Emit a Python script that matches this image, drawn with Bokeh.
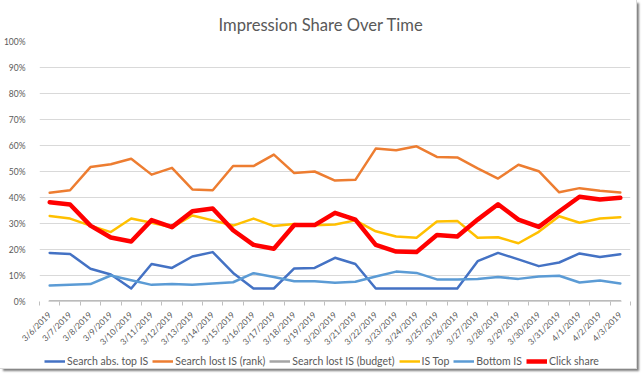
from bokeh.plotting import figure
from bokeh.layouts import column
from bokeh.models import Range1d, FixedTicker, Legend, LegendItem
from bokeh.embed import file_html
from bokeh.resources import INLINE
from math import pi

dates = ["3/6/2019", "3/7/2019", "3/8/2019", "3/9/2019", "3/10/2019", "3/11/2019",
         "3/12/2019", "3/13/2019", "3/14/2019", "3/15/2019", "3/16/2019", "3/17/2019",
         "3/18/2019", "3/19/2019", "3/20/2019", "3/21/2019", "3/22/2019", "3/23/2019",
         "3/24/2019", "3/25/2019", "3/26/2019", "3/27/2019", "3/28/2019", "3/29/2019",
         "3/30/2019", "3/31/2019", "4/1/2019", "4/2/2019", "4/3/2019"]

abs_top = [18.7, 18.3, 12.6, 10.4, 5.0, 14.4, 12.9, 17.3, 19.0, 11.0, 5.0, 5.0, 12.7, 12.9, 16.8,
           14.4, 5.0, 5.0, 5.0, 5.0, 5.0, 15.5, 18.7, 16.2, 13.6, 15.0, 18.5, 17.1, 18.2]
lost_rank = [41.8, 42.8, 51.7, 52.8, 54.9, 48.8, 51.4, 43.1, 42.8, 52.1, 52.1, 56.5, 49.4, 50.0, 46.5,
             46.8, 58.8, 58.2, 59.7, 55.6, 55.4, 51.2, 47.3, 52.6, 50.1, 42.0, 43.6, 42.6, 41.9]
lost_budget = [0, 0, 0, 0, 0, 0, 0, 0, 0, 0, 0, 0, 0, 0, 0,
               0, 0, 0, 0, 0, 0, 0, 0, 0, 0, 0, 0, 0, 0]
is_top = [32.9, 31.9, 29.2, 26.7, 31.9, 30.3, 28.5, 33.1, 31.2, 29.2, 31.9, 29.0, 29.8, 29.3, 29.6,
          31.2, 27.0, 25.0, 24.5, 30.8, 31.0, 24.5, 24.7, 22.4, 26.8, 32.8, 30.3, 31.9, 32.4]
bottom_is = [6.2, 6.4, 6.7, 10.0, 8.2, 6.4, 6.7, 6.4, 6.9, 7.4, 10.9, 9.4, 7.8, 7.8, 7.2,
             7.6, 9.6, 11.5, 11.0, 8.5, 8.5, 8.7, 9.4, 8.7, 9.6, 9.9, 7.3, 8.1, 6.9]
click_share = [38.2, 37.3, 29.2, 24.6, 23.1, 31.3, 28.6, 34.7, 35.8, 27.4, 21.8, 20.3, 29.4, 29.4, 34.1,
               31.5, 21.8, 19.2, 19.0, 25.6, 25.0, 31.5, 37.4, 31.5, 28.7, 34.6, 40.3, 39.2, 39.9]

y_ticks = [0, 10, 20, 30, 40, 50, 60, 70, 80, 90, 100]

series = [
    ("Search abs. top IS", abs_top, "#4472C4", 2.5),
    ("Search lost IS (rank)", lost_rank, "#ED7D31", 2.5),
    ("Search lost IS (budget)", lost_budget, "#A5A5A5", 2.5),
    ("IS Top", is_top, "#FFC000", 2.5),
    ("Bottom IS", bottom_is, "#5B9BD5", 2.5),
    ("Click share", click_share, "#FF0000", 4.5),
]

FONT = "Lato"
TXT = "#595959"

xs = list(range(len(dates)))

p = figure(width=636, height=353, output_backend="svg", toolbar_location=None,
           x_range=Range1d(-0.5, len(dates) - 0.5), y_range=Range1d(0, 100),
           min_border_left=35, min_border_right=6, min_border_top=41, min_border_bottom=52)
p.outline_line_color = None
p.background_fill_color = "white"
p.border_fill_color = "white"

p.title.text = "Impression Share Over Time"
p.title.align = "left"
p.title.offset = 179
p.title.standoff = 14
p.title.text_font = FONT
p.title.text_font_size = "16.6px"
p.title.text_font_style = "normal"
p.title.text_color = TXT

for name, vals, color, w in series:
    p.line(xs, vals, line_color=color, line_width=w, line_join="round", line_cap="round")

# y axis
p.yaxis.ticker = FixedTicker(ticks=y_ticks)
p.yaxis.major_label_overrides = {t: f"{t}%" for t in y_ticks}
p.yaxis.axis_line_color = None
p.yaxis.major_tick_line_color = None
p.yaxis.minor_tick_line_color = None
p.yaxis.major_label_standoff = 8
p.yaxis.major_label_text_font = FONT
p.yaxis.major_label_text_font_size = "8.5px"
p.yaxis.major_label_text_color = TXT

# x axis
p.xaxis.ticker = FixedTicker(ticks=xs, minor_ticks=[i - 0.5 for i in range(len(dates) + 1)])
p.xaxis.major_label_overrides = {i: d for i, d in enumerate(dates)}
p.xaxis.major_label_orientation = pi / 4
p.xaxis.axis_line_color = None
p.xaxis.major_tick_line_color = None
p.xaxis.minor_tick_line_color = "#BFBFBF"
p.xaxis.minor_tick_out = 4
p.xaxis.minor_tick_in = 0
p.xaxis.major_label_standoff = 6
p.xaxis.major_label_text_font = FONT
p.xaxis.major_label_text_font_size = "8.5px"
p.xaxis.major_label_text_color = TXT

p.xgrid.grid_line_color = None
p.ygrid.grid_line_color = "#D9D9D9"
p.ygrid.grid_line_width = 1

# legend strip underneath the chart (its copies of the lines sit outside its view)
pl = figure(width=636, height=15, output_backend="svg", toolbar_location=None,
            x_axis_location=None, y_axis_location=None,
            x_range=Range1d(100, 101), y_range=Range1d(1000, 1001),
            min_border_left=0, min_border_right=0, min_border_top=0, min_border_bottom=0)
pl.grid.visible = False
pl.outline_line_color = None
pl.background_fill_color = "white"
pl.border_fill_color = "white"

items = []
for name, vals, color, w in series:
    r = pl.line(xs, vals, line_color=color, line_width=w)
    items.append(LegendItem(label=name, renderers=[r]))

legend = Legend(items=items, orientation="horizontal", location=(5, 1),
                label_text_font=FONT, label_text_font_size="10.5px", label_text_color=TXT,
                glyph_width=21, glyph_height=12, label_standoff=2, spacing=4,
                padding=0, margin=0, border_line_color=None, background_fill_alpha=0)
pl.add_layout(legend, "center")

layout = column(p, pl, spacing=0,
                styles={"box-shadow": "0 0 0 1px #D9D9D9, 3px 3px 2px #7F7F7F"})
open("out.html", "w").write(file_html(layout, INLINE))
